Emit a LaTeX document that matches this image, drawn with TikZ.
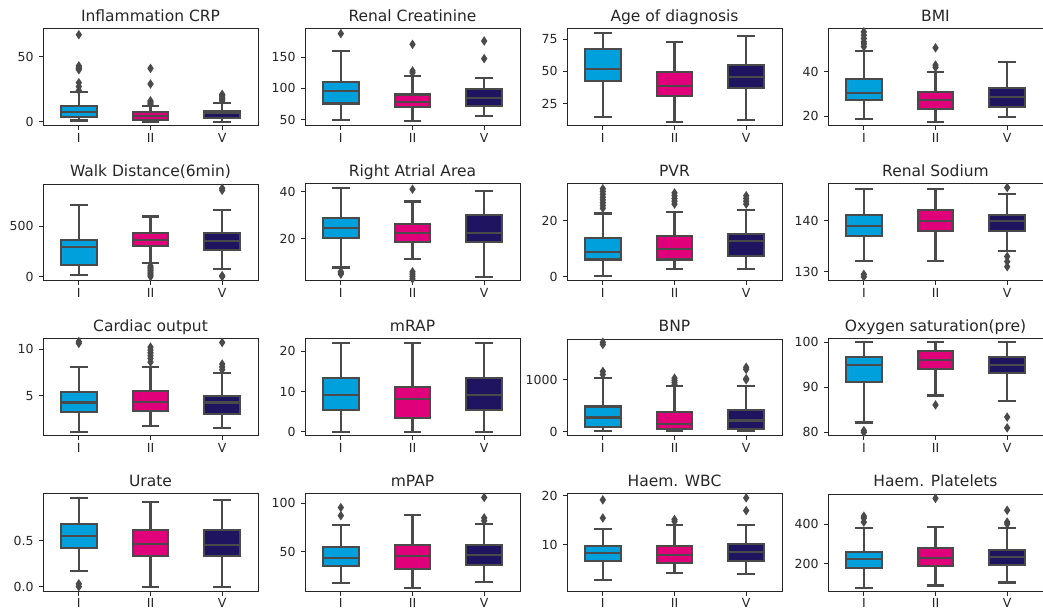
\documentclass[tikz,border=0pt]{standalone}
\usepackage{fontspec}
\setmainfont{DejaVu Sans}
\definecolor{grp0}{HTML}{00A0DD}
\definecolor{grp1}{HTML}{E0007A}
\definecolor{grp2}{HTML}{1E145F}
\definecolor{edge}{HTML}{4A4A4A}

% one axes box: left, top (px from top), ymin, ymax, title, ticks, boxes
\newcommand\panel[7]{%
  \pgfmathsetmacro\yu{97/((#4)-(#3))}%
  \pgfmathsetmacro\xo{#1+215/6}%
  \pgfmathsetmacro\yo{610-#2-97-(#3)*\yu}%
  \begin{scope}[shift={(\xo pt,\yo pt)},x=71.667pt,y=\yu pt]
    \draw[frame] (-0.5,#3) rectangle (2.5,#4);
    \node[ttl,anchor=base] at ([yshift=7.5pt]1,#4) {#5};
    \foreach \yv/\lab in {#6}
      \draw[frame] (-0.5,\yv) -- ++(-4.5pt,0) node[ticklab,anchor=east,xshift=-4.5pt] {\lab};
    \foreach \ix/\lab in {0/I,1/II,2/V}
      \draw[frame] (\ix,#3) -- ++(0,-4.5pt) node[ticklab,anchor=north,yshift=-2.5pt] {\lab};
    #7
  \end{scope}}
% group, whisker low, q1, median, q3, whisker high
\newcommand\bx[6]{%
  \draw[whisk] (#1,#2) -- (#1,#3) (#1,#5) -- (#1,#6)
    (#1-0.125,#2) -- (#1+0.125,#2) (#1-0.125,#6) -- (#1+0.125,#6);
  \draw[whisk,fill=grp#1] (#1-0.25,#3) rectangle (#1+0.25,#5);
  \draw[whisk] (#1-0.25,#4) -- (#1+0.25,#4);}
% outliers of a group
\newcommand\fl[2]{\foreach \ov in {#2}
  \fill[edge] (#1,\ov) +(0,4.8pt) -- +(3.2pt,0) -- +(0,-4.8pt) -- +(-3.2pt,0) -- cycle;}

\begin{document}
\begin{tikzpicture}[frame/.style={draw=black!85,line width=1pt},
  whisk/.style={draw=edge,line width=2.1pt},
  ttl/.style={font=\fontsize{15.5}{18}\selectfont,text=black!85,inner sep=0},
  ticklab/.style={font=\fontsize{12.5}{15}\selectfont,text=black!85,inner sep=0}]
  \useasboundingbox (0,0) rectangle (1043pt,610pt);

  % row 1
  \panel{43}{29}{-3.4}{71.4}{Inflammation CRP}{0/0,50/50}{%
    \bx0{0.8}{3.8}{7.2}{11.8}{22.5}\fl0{24,27,30,40,41,42,43,67}
    \bx1{0}{1.5}{4.4}{7.2}{11.8}\fl1{13,14,15,16,29,41}
    \bx2{0}{2.6}{6.6}{8}{14.3}\fl2{16,17,18,19,20,21}}
  \panel{305}{29}{40}{195}{Renal Creatinine}{50/50,100/100,150/150}{%
    \bx0{50}{76}{95.7}{110.7}{160}\fl0{187.6}
    \bx1{47.6}{70}{78}{90.4}{119.7}\fl1{125,128,170.5}
    \bx2{55.6}{71.6}{85}{98.4}{116}\fl2{147.6,175.8}}
  \panel{567}{29}{7.5}{83}{Age of diagnosis}{25/25,50/50,75/75}{%
    \bx0{14.4}{42.5}{52.1}{67.4}{79.7}
    \bx1{10.6}{30.5}{38.3}{49.5}{73.1}
    \bx2{12}{37}{45.3}{55.2}{77.6}}
  \panel{828}{29}{15.5}{59.3}{BMI}{20/20,40/40}{%
    \bx0{18.6}{27.2}{30.5}{36.7}{49.5}\fl0{51.3,52.5,53.5,55,56.5,58}
    \bx1{17.4}{23.2}{27.2}{31}{39.7}\fl1{42,43,50.8}
    \bx2{19.4}{24.2}{28.7}{32.8}{44.2}}

  % row 2
  \panel{43}{184}{-44}{922}{Walk Distance(6min)}{0/0,500/500}{%
    \bx0{17}{115}{294}{368}{713}
    \bx1{131}{304}{367}{435}{598}\fl1{0,15,30,45,60,75,90,105}
    \bx2{72}{268}{353}{435}{660}\fl2{0,10,860,880}}
  \panel{305}{184}{2.1}{43.2}{Right Atrial Area}{20/20,40/40}{%
    \bx0{7.8}{20.3}{24.6}{28.8}{41.4}\fl0{5,5.5,6}
    \bx1{11.6}{18.6}{22.5}{26.3}{35.8}\fl1{3,4,5,6,41}
    \bx2{3.9}{18.6}{22.5}{30.1}{40.3}}
  \panel{567}{184}{-1.6}{33.2}{PVR}{0/0,20/20}{%
    \bx0{0.2}{6.1}{8.8}{13.8}{22.6}\fl0{24.5,25.5,26.5,27.5,28.5,29.5,30.5,31.5}
    \bx1{2.6}{6.1}{9.8}{14.4}{23}\fl1{26,27,28,29,30}
    \bx2{2.6}{7.3}{12.6}{15.3}{23.8}\fl2{26,27,28,29}}
  \panel{828}{184}{128.2}{147.2}{Renal Sodium}{130/130,140/140}{%
    \bx0{132.1}{137}{139}{141.2}{146.3}\fl0{129,129.5}
    \bx1{132.1}{138}{140}{142.1}{146.3}
    \bx2{134}{138}{140}{141.2}{145.2}\fl2{131,132,133,146.5}}

  % row 3
  \panel{43}{339}{0.73}{11.07}{Cardiac output}{5/5,10/10}{%
    \bx0{1.2}{3.25}{4.3}{5.4}{8.1}\fl0{10.6,10.8}
    \bx1{1.8}{3.4}{4.4}{5.5}{8.1}\fl1{8.6,9,9.3,9.6,9.9,10.2}
    \bx2{1.6}{3.1}{4.3}{5}{7.4}\fl2{7.8,8.1,8.4,10.7}}
  \panel{305}{339}{-1.1}{23.1}{mRAP}{0/0,10/10,20/20}{%
    \bx0{0}{5.3}{9.2}{13.3}{22}
    \bx1{0}{3.3}{8.2}{11.1}{22}
    \bx2{0}{5.3}{9.2}{13.3}{22}}
  \panel{567}{339}{-85}{1785}{BNP}{0/0,1000/1000}{%
    \bx0{13}{85}{271}{484}{1032}\fl0{1100,1160,1680,1722}
    \bx1{13}{52}{143}{375}{884}\fl1{910,950,990,1030}
    \bx2{13}{52}{213}{420}{884}\fl2{1000,1020,1200,1240}}
  \panel{828}{339}{79.2}{100.75}{Oxygen saturation(pre)}{80/80,90/90,100/100}{%
    \bx0{82.2}{91.2}{94.9}{96.8}{100}\fl0{80,80.4}
    \bx1{88.2}{94}{96.1}{98.1}{100}\fl1{86.1}
    \bx2{87}{93.1}{95}{96.8}{100}\fl2{81,83.4}}

  % row 4
  \panel{43}{494}{-0.048}{1.008}{Urate}{0/0.0,0.5/0.5}{%
    \bx0{0.17}{0.424}{0.554}{0.685}{0.96}\fl0{0,0.03}
    \bx1{0}{0.33}{0.467}{0.62}{0.92}
    \bx2{0}{0.33}{0.457}{0.62}{0.94}}
  \panel{305}{494}{9.5}{109.6}{mPAP}{50/50,100/100}{%
    \bx0{18}{35.4}{43.7}{55}{78}\fl0{87.3,95.6}
    \bx1{13}{32.4}{46}{57}{88}
    \bx2{19}{36.4}{47}{57}{79}\fl2{82,85,106}}
  \panel{567}{494}{0.6}{20.4}{Haem. WBC}{10/10,20/20}{%
    \bx0{2.8}{6.8}{8.3}{9.8}{13.2}\fl0{15.5,19.2}
    \bx1{4.2}{6.4}{8}{9.8}{14}\fl1{14.8,15.2}
    \bx2{4}{6.8}{8.5}{10.2}{14}\fl2{17,19.6}}
  \panel{828}{494}{62}{552}{Haem. Platelets}{200/200,400/400}{%
    \bx0{75}{180}{222}{260}{380}\fl0{410,430,440}
    \bx1{90}{190}{230}{280}{385}\fl1{530}
    \bx2{105}{195}{232}{270}{380}\fl2{400,410,470}}
\end{tikzpicture}
\end{document}
